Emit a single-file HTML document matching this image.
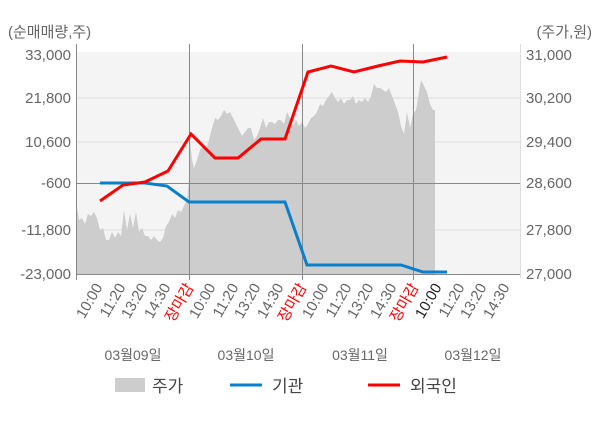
<!DOCTYPE html><html><head><meta charset="utf-8"><style>body{margin:0;background:#fff}svg{display:block;font-family:"Liberation Sans","Noto Sans CJK KR",sans-serif}</style></head><body>
<svg width="600" height="428" viewBox="0 0 600 428">
<rect x="76" y="52" width="444" height="222" fill="#f4f4f4"/>
<g stroke="#dcdcdc" stroke-width="1"><line x1="76" x2="520" y1="98" y2="98"/><line x1="76" x2="520" y1="142" y2="142"/><line x1="76" x2="520" y1="230" y2="230"/></g>
<polygon fill="#cdcdcd" points="76,274 76,200 79,220 82,218 85,224 88,214 91,216 94,212 97,218 100,230 103,228 106,240 109,240 112,232 115,238 118,232 121,236 124,210 127,230 130,214 133,228 136,212 139,232 142,228 145,236 148,236 151,240 154,236 157,240 160,242 163,238 166,226 169,222 172,214 175,218 178,210 181,212 184,206 187,200 189,180 190,140 192,160 194,168 197,160 200,150 203,146 206,150 209,140 212,128 215,118 218,120 221,116 224,110 227,114 230,112 233,118 236,124 239,130 242,136 245,132 248,128 251,128 254,140 257,136 260,128 263,118 266,128 269,122 272,122 275,124 278,120 281,120 284,124 287,112 290,118 293,126 296,120 299,126 302,122 305,128 308,124 311,118 314,116 317,112 320,104 323,106 326,100 329,96 332,92 335,98 338,102 341,98 344,104 347,100 350,100 353,96 356,104 359,100 362,102 365,98 368,102 371,96 374,84 377,88 380,88 383,90 386,92 389,88 392,96 395,104 398,112 401,126 404,134 407,112 410,128 413,114 416,110 419,92 421,80 424,86 427,92 430,104 433,110 435,110 435,274"/>
<g stroke="#888" stroke-width="1"><line x1="76" x2="520" y1="183.5" y2="183.5"/><line x1="189.5" x2="189.5" y1="44" y2="280"/><line x1="302.5" x2="302.5" y1="44" y2="280"/><line x1="413.5" x2="413.5" y1="44" y2="280"/><line x1="76" x2="520" y1="274.5" y2="274.5"/><line x1="76.5" x2="76.5" y1="44" y2="280"/></g>
<line x1="520.5" x2="520.5" y1="44" y2="278" stroke="#ddd"/>
<polyline fill="none" stroke="#0a7fcc" stroke-width="3" points="100,183 145,183 167,186 189,202 285,202 307,265 401,265 423,272 447,272"/>
<polyline fill="none" stroke="#f00" stroke-width="3" points="100,201 123,185 145,182 168,171 191,134 215,158 238,158 261,139 285,139 308,72 331,66 354,72 378,66 400,61 423,62 447,57"/>
<g font-size="15" fill="#666"><text x="8" y="37">(순매매량,주)</text><text x="592" y="37" text-anchor="end">(주가,원)</text>
<g text-anchor="end"><text x="71" y="60">33,000</text><text x="71" y="103">21,800</text><text x="71" y="147">10,600</text><text x="71" y="188">-600</text><text x="71" y="235">-11,800</text><text x="71" y="279">-23,000</text></g>
<text x="526" y="60">31,000</text><text x="526" y="103">30,200</text><text x="526" y="147">29,400</text><text x="526" y="188">28,600</text><text x="526" y="235">27,800</text><text x="526" y="279">27,000</text>
<g font-size="14"><text x="133" y="360" text-anchor="middle">03월09일</text><text x="246" y="360" text-anchor="middle">03월10일</text><text x="360" y="360" text-anchor="middle">03월11일</text><text x="473" y="360" text-anchor="middle">03월12일</text></g></g>
<g font-size="15" text-anchor="end">
<text transform="translate(103,287) rotate(-60)" fill="#666">10:00</text><text transform="translate(126,287) rotate(-60)" fill="#666">11:20</text><text transform="translate(148,287) rotate(-60)" fill="#666">13:20</text><text transform="translate(171,287) rotate(-60)" fill="#666">14:30</text><text transform="translate(194,287) rotate(-60)" fill="#f00">장마감</text>
<text transform="translate(216,287) rotate(-60)" fill="#666">10:00</text><text transform="translate(239,287) rotate(-60)" fill="#666">11:20</text><text transform="translate(261,287) rotate(-60)" fill="#666">13:20</text><text transform="translate(284,287) rotate(-60)" fill="#666">14:30</text><text transform="translate(307,287) rotate(-60)" fill="#f00">장마감</text>
<text transform="translate(329,287) rotate(-60)" fill="#666">10:00</text><text transform="translate(352,287) rotate(-60)" fill="#666">11:20</text><text transform="translate(374,287) rotate(-60)" fill="#666">13:20</text><text transform="translate(397,287) rotate(-60)" fill="#666">14:30</text><text transform="translate(419,287) rotate(-60)" fill="#f00">장마감</text>
<text transform="translate(442,287) rotate(-60)" fill="#222">10:00</text><text transform="translate(465,287) rotate(-60)" fill="#666">11:20</text><text transform="translate(487,287) rotate(-60)" fill="#666">13:20</text><text transform="translate(510,287) rotate(-60)" fill="#666">14:30</text></g>
<rect x="115" y="378" width="30" height="14" fill="#cdcdcd"/><text x="152" y="392" font-size="17" fill="#444">주가</text>
<line x1="230" x2="262" y1="385" y2="385" stroke="#0a7fcc" stroke-width="3"/><text x="272" y="392" font-size="17" fill="#444">기관</text>
<line x1="368" x2="400" y1="385" y2="385" stroke="#f00" stroke-width="3"/><text x="410" y="392" font-size="17" fill="#444">외국인</text>
</svg></body></html>
